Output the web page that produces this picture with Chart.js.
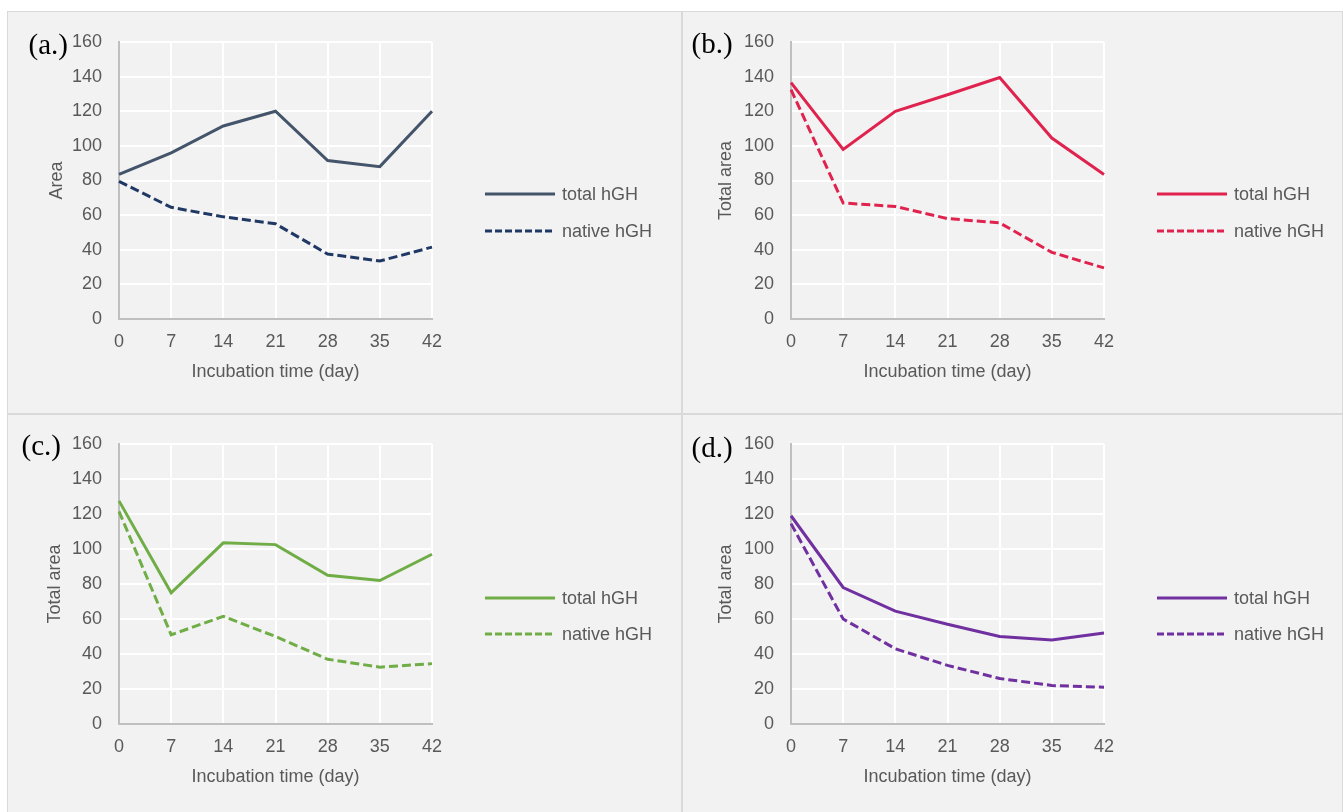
<!DOCTYPE html>
<html>
<head>
<meta charset="utf-8">
<script src="https://cdn.jsdelivr.net/npm/chart.js@4.4.1/dist/chart.umd.min.js"></script>
<style>
  body { margin: 0; background: #ffffff; }
  #frame { position: absolute; left: 7px; top: 11px; width: 1336px; height: 801px; background: #d9d9d9; }
  .panel { position: absolute; background: #f2f2f2; }
  .panel canvas { position: absolute; left: 0; top: 0; }
  .tag { position: absolute; font-family: "Liberation Serif", "Times New Roman", serif; font-size: 29px; line-height: 29px; color: #000; }
  .key { position: absolute; height: 18px; display: flex; align-items: center; white-space: nowrap;
         font-family: "Liberation Sans", Arial, sans-serif; font-size: 18px; line-height: 18px; color: #595959; }
  .key svg { display: block; margin-right: 7px; }
</style>
</head>
<body>
<div id="frame"></div>

<script>
// incubation days on the x axis
const days = ['0', '7', '14', '21', '28', '35', '42'];

// (a.)
const totalA  = [83.5, 96, 111.5, 120, 91.5, 88, 120];
const nativeA = [79.5, 64.5, 59, 55, 37.5, 33.5, 41.5];
// (b.)
const totalB  = [136.5, 98, 120, 129.5, 139.5, 104.5, 83.5];
const nativeB = [132.5, 67, 65, 58, 55.5, 38.5, 29.5];
// (c.)
const totalC  = [127.5, 75, 103.5, 102.5, 85, 82, 97];
const nativeC = [121.5, 51, 61.5, 50, 37, 32.5, 34.5];
// (d.)
const totalD  = [119, 78, 64.5, 57, 50, 48, 52];
const nativeD = [114.5, 60, 43, 33.5, 26, 22, 21];

const yMin = 0, yMax = 160, yStep = 20;
const seriesNames = ['total hGH', 'native hGH'];

const FONT = "'Liberation Sans', Arial, sans-serif";
const TEXT = '#595959';

// box = panel rect on the page; pads/heights place the plot area inside it
const panels = [
  { tag: '(a.)', yTitle: 'Area', total: totalA, native: nativeA, colors: ['#44546a', '#203864'],
    box: [8, 12, 673, 401], yW: 111, padR: 249, padT: 30, xH: 94, titleL: 38, titleB: 30,
    tagPos: [28.5, 29.5], keyPos: [485, 194, 37] },
  { tag: '(b.)', yTitle: 'Total area', total: totalB, native: nativeB, colors: ['#e0234e', '#e0234e'],
    box: [683, 12, 659, 401], yW: 108, padR: 238, padT: 30, xH: 94, titleL: 32, titleB: 30,
    tagPos: [691.5, 29], keyPos: [1157, 194, 37] },
  { tag: '(c.)', yTitle: 'Total area', total: totalC, native: nativeC, colors: ['#70ad47', '#70ad47'],
    box: [8, 415, 673, 397], yW: 111, padR: 249, padT: 29, xH: 88, titleL: 36, titleB: 24,
    tagPos: [21.5, 431], keyPos: [485, 598, 36] },
  { tag: '(d.)', yTitle: 'Total area', total: totalD, native: nativeD, colors: ['#7030a0', '#7030a0'],
    box: [683, 415, 659, 397], yW: 108, padR: 238, padT: 29, xH: 88, titleL: 32, titleB: 24,
    tagPos: [691.5, 433], keyPos: [1157, 598, 36] }
];

// legend rows built from the chart's own datasets
function buildKey(chart, pos) {
  chart.data.datasets.forEach((ds, k) => {
    const row = document.createElement('div');
    row.className = 'key';
    row.style.left = pos[0] + 'px';
    row.style.top = (pos[1] + k * pos[2] - 9) + 'px';
    const dash = ds.borderDash ? 'stroke-dasharray="7 3"' : '';
    row.innerHTML = `<svg width="70" height="4"><line x1="0" y1="2" x2="70" y2="2" stroke="${ds.borderColor}" stroke-width="3" ${dash}/></svg><span>${ds.label}</span>`;
    document.body.appendChild(row);
  });
}

panels.forEach(p => {
  const div = document.createElement('div');
  div.className = 'panel';
  div.style.left = p.box[0] + 'px';
  div.style.top = p.box[1] + 'px';
  div.style.width = p.box[2] + 'px';
  div.style.height = p.box[3] + 'px';
  const cv = document.createElement('canvas');
  cv.width = p.box[2];
  cv.height = p.box[3];
  div.appendChild(cv);
  document.body.appendChild(div);

  const tag = document.createElement('div');
  tag.className = 'tag';
  tag.textContent = p.tag;
  tag.style.left = p.tagPos[0] + 'px';
  tag.style.top = p.tagPos[1] + 'px';
  document.body.appendChild(tag);

  const chart = new Chart(cv, {
    type: 'line',
    data: {
      labels: days,
      datasets: [
        { label: seriesNames[0], data: p.total, borderColor: p.colors[0], backgroundColor: p.colors[0],
          borderWidth: 3, pointRadius: 0, tension: 0 },
        { label: seriesNames[1], data: p.native, borderColor: p.colors[1], backgroundColor: p.colors[1],
          borderWidth: 3, borderDash: [9, 4], pointRadius: 0, tension: 0 }
      ]
    },
    options: {
      responsive: false,
      animation: false,
      devicePixelRatio: 1,
      layout: { padding: { left: 0, right: p.padR, top: p.padT, bottom: 0 } },
      plugins: {
        tooltip: { enabled: false },
        legend: { display: false }
      },
      scales: {
        x: {
          grid: { color: '#ffffff', lineWidth: 2, drawTicks: false },
          border: { color: '#bfbfbf', width: 2 },
          ticks: { color: TEXT, font: { family: FONT, size: 18 }, padding: 12, maxRotation: 0 },
          title: { display: true, text: 'Incubation time (day)', color: TEXT,
                   font: { family: FONT, size: 18 }, padding: { top: 0, bottom: p.titleB } },
          afterFit(s) { s.height = p.xH; }
        },
        y: {
          min: yMin, max: yMax,
          grid: { color: '#ffffff', lineWidth: 2, drawTicks: false },
          border: { color: '#bfbfbf', width: 2 },
          ticks: { stepSize: yStep, color: TEXT, font: { family: FONT, size: 18 }, padding: 17 },
          title: { display: true, text: p.yTitle, color: TEXT,
                   font: { family: FONT, size: 18 }, padding: { top: p.titleL, bottom: 0 } },
          afterFit(s) { s.width = p.yW; }
        }
      }
    }
  });

  buildKey(chart, p.keyPos);
});
</script>
</body>
</html>
